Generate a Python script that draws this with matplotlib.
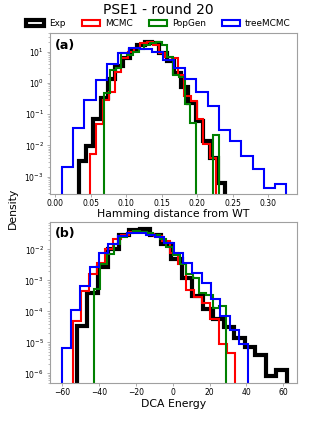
import numpy as np
import matplotlib
matplotlib.use('Agg')
import matplotlib.pyplot as plt

# ---- data: density per bin (20 bins each), bins span [lo, hi] ----
labels = ['Exp', 'MCMC', 'PopGen', 'treeMCMC']
colors = ['k', 'r', 'g', 'b']
widths = [3.0, 1.5, 1.5, 1.5]

# (a) Hamming distance from WT
ham_range = [[0.0335, 0.239], [0.0492, 0.226], [0.069, 0.2306], [0.0098, 0.3249]]
ham_exp = [0.0031, 0.0095, 0.071, 0.33, 1.3, 3.4, 6.3, 11.5, 16, 20,
           19, 9, 5, 2.1, 0.74, 0.23, 0.06, 0.0138, 0.004, 0.00063]
ham_mcmc = [0.0055, 0.05, 0.28, 0.5, 2.2, 6.3, 10, 13, 19.6, 20,
            17, 9, 7, 6.3, 1.84, 0.38, 0.26, 0.071, 0.011, 0.004]
ham_popgen = [0.47, 2.6, 3, 8.9, 8, 9.5, 12, 16, 19, 20,
              16, 7, 1.84, 1.6, 0.22, 0.052, 0, 0, 0, 0.021]
ham_tree = [0.0021, 0.037, 0.29, 1.25, 4.1, 9, 13.5, 12, 9.5, 5.5,
            3.0, 1.37, 0.5, 0.19, 0.031, 0.0144, 0.0046, 0.0018, 0.00045, 0.0006]

# (b) DCA energy
dca_range = [[-52.2, 61.8], [-54.3, 33.6], [-42.9, 28.8], [-60.3, 41.0]]
dca_exp = [3.5e-5, 4e-4, 2.6e-3, 0.010, 0.029, 0.043, 0.044, 0.030, 0.0145, 0.0048,
           1.17e-3, 3.2e-4, 1.17e-4, 5.6e-5, 3.2e-5, 1.4e-5, 7e-6, 4e-6, 8.4e-7, 1.25e-6]
dca_mcmc = [5e-5, 4.5e-4, 1.6e-3, 3.7e-3, 0.010, 0.021, 0.030, 0.037, 0.036, 0.031,
            0.027, 0.019, 7.8e-3, 3.3e-3, 5e-4, 3e-4, 1.8e-4, 5.6e-5, 9e-6, 4.4e-6]
dca_popgen = [5.1e-4, 3.3e-3, 6.9e-3, 0.0145, 0.025, 0.034, 0.039, 0.036, 0.034, 0.029,
              0.021, 0.012, 6.5e-3, 3.4e-3, 1.6e-3, 1.2e-3, 4e-4, 3.5e-4, 1.3e-4, 1.5e-4]
dca_tree = [6.4e-6, 1.08e-4, 6.6e-4, 2.6e-3, 7.4e-3, 0.0145, 0.027, 0.033, 0.034, 0.030,
            0.025, 0.016, 7.8e-3, 3.7e-3, 1.77e-3, 8e-4, 2.6e-4, 7.1e-5, 2.6e-5, 8.6e-6]

ham_vals = [ham_exp, ham_mcmc, ham_popgen, ham_tree]
dca_vals = [dca_exp, dca_mcmc, dca_popgen, dca_tree]

fig = plt.figure(figsize=(3.17, 4.23), dpi=100)
ax1 = fig.add_axes([0.1577, 0.5414, 0.779, 0.3806])
ax2 = fig.add_axes([0.1577, 0.0939, 0.779, 0.382])


def draw(ax, ranges, vals):
    for rng, v, c, lw, lab in zip(ranges, vals, colors, widths, labels):
        edges = np.linspace(rng[0], rng[1], len(v) + 1)
        ax.hist(edges[:-1], bins=edges, weights=v, histtype='step',
                color=c, lw=lw, label=lab)
    ax.set_yscale('log')
    for s in ax.spines.values():
        s.set_color('#a0a0a0')
    ax.tick_params(which='both', labelsize=5.5, color='#a0a0a0')
    ax.tick_params(which='major', length=2.5, width=0.6)
    ax.tick_params(which='minor', length=1.5, width=0.5)
    ax.tick_params(axis='x', pad=1.0)
    ax.tick_params(axis='y', pad=2.0)


draw(ax1, ham_range, ham_vals)
ax1.set_xlim(-0.007, 0.340)
ax1.set_ylim(2.8e-4, 40)
ax1.set_xticks([0.0, 0.05, 0.10, 0.15, 0.20, 0.25, 0.30])
ax1.set_xlabel('Hamming distance from WT', fontsize=7.8, labelpad=1)
ax1.text(0.02, 0.965, '(a)', transform=ax1.transAxes, va='top',
         fontsize=9, fontweight='bold')

draw(ax2, dca_range, dca_vals)
ax2.set_xlim(-66.7, 67.4)
ax2.set_ylim(4.8e-7, 0.078)
ax2.set_xticks([-60, -40, -20, 0, 20, 40, 60])
ax2.set_xlabel('DCA Energy', fontsize=7.8, labelpad=1)
ax2.text(0.02, 0.965, '(b)', transform=ax2.transAxes, va='top',
         fontsize=9, fontweight='bold')

fig.text(0.041, 0.508, 'Density', rotation=90, va='center', ha='center',
         fontsize=7.8)
fig.suptitle('PSE1 - round 20', fontsize=10, y=0.976, va='center')
h, l = ax1.get_legend_handles_labels()
fig.legend(h, l, ncol=4, loc='center', bbox_to_anchor=(0.5, 1 - 24 / 423),
           frameon=False, fontsize=6.4, columnspacing=1.8, handletextpad=0.6)

fig.savefig('out.png', dpi=100)
